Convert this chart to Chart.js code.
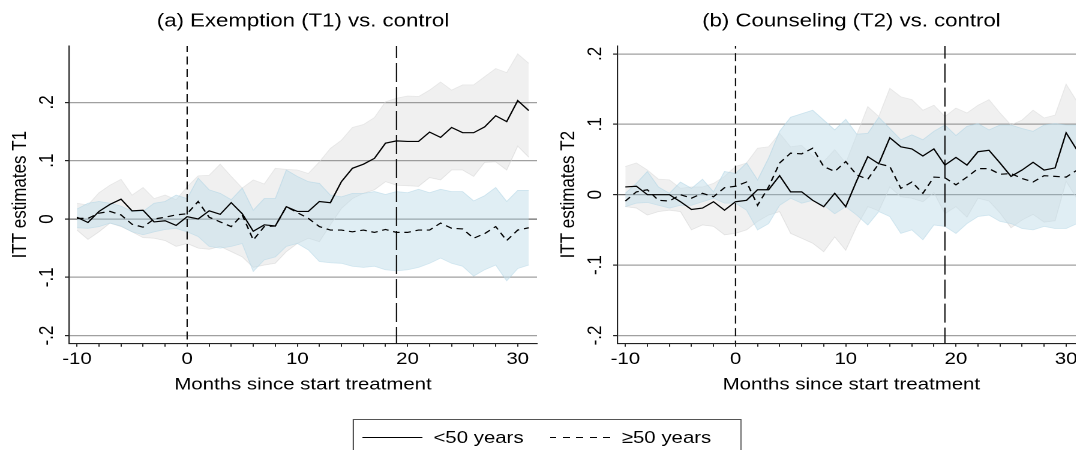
<!DOCTYPE html>
<html>
<head>
<meta charset="utf-8">
<script src="https://cdn.jsdelivr.net/npm/chart.js@4.4.1/dist/chart.umd.min.js"></script>
<style>
  html, body { margin: 0; padding: 0; background: #fff; width: 1076px; height: 450px; overflow: hidden; }
  /* the reference is stretched horizontally, so the whole stage is drawn narrow and scaled */
  #stage { position: absolute; left: 0; top: 0; width: 896.67px; height: 450px; overflow: hidden;
           transform: scaleX(1.2); transform-origin: 0 0; font-family: "Liberation Sans", Arial, sans-serif; }
  .panel { position: absolute; top: 0; width: 457px; height: 400px; }
  #legend { position: absolute; left: 294.2px; top: 419px; width: 324px; height: 40px; border: 1px solid #555; box-sizing: border-box; }
  .key { position: absolute; top: 17px; height: 1.3px; }
  .key.solid { left: 7px; width: 50px; background: #000; }
  .key.dash { left: 163px; width: 52px; background: repeating-linear-gradient(to right, #000 0 5.6px, transparent 5.6px 11.2px); }
  .lab { position: absolute; top: 8px; font-size: 17px; line-height: 20px; color: #000; white-space: nowrap; }
</style>
</head>
<body>
<div id="stage">
  <div class="panel" style="left:0"><canvas id="chartA"></canvas></div>
  <div class="panel" style="left:457.1px"><canvas id="chartB"></canvas></div>
  <div id="legend">
    <div class="key solid"></div><div class="lab" id="lab0" style="left:66px"></div>
    <div class="key dash"></div><div class="lab" id="lab1" style="left:223px"></div>
  </div>
</div>
<script>
const months = [-10, -9, -8, -7, -6, -5, -4, -3, -2, -1, 0, 1, 2, 3, 4, 5, 6, 7, 8, 9, 10,
  11, 12, 13, 14, 15, 16, 17, 18, 19, 20, 21, 22, 23, 24, 25, 26, 27, 28, 29, 30, 31];
const refMonths = [0, 19];
const xTickValues = [-10, 0, 10, 20, 30];
const xTickLabels = ['-10', '0', '10', '20', '30'];
const yTickValues = [-0.2, -0.1, 0, 0.1, 0.2];
const yTickLabels = ['-.2', '-.1', '0', '.1', '.2'];
const seriesLabels = ['<50 years', '≥50 years'];

// (a) Exemption (T1) vs. control
const t1Under50 = [0.003, -0.006, 0.013, 0.025, 0.034, 0.014, 0.015, -0.005, -0.003, -0.011,
  0.004, 0.000, 0.014, 0.008, 0.028, 0.009, -0.021, -0.010, -0.012, 0.021,
  0.013, 0.013, 0.030, 0.028, 0.064, 0.087, 0.094, 0.104, 0.130, 0.134,
  0.133, 0.133, 0.149, 0.140, 0.157, 0.148, 0.148, 0.158, 0.177, 0.167, 0.203, 0.186];
const t1Under50Hi = [0.027, 0.024, 0.045, 0.058, 0.068, 0.041, 0.054, 0.035, 0.041, 0.033,
  0.055, 0.074, 0.075, 0.094, 0.073, 0.053, 0.067, 0.060, 0.087, 0.085,
  0.084, 0.078, 0.098, 0.121, 0.135, 0.157, 0.162, 0.174, 0.201, 0.207,
  0.211, 0.210, 0.221, 0.235, 0.221, 0.230, 0.230, 0.244, 0.258, 0.251, 0.283, 0.267];
const t1Under50Lo = [-0.019, -0.035, -0.022, -0.007, -0.013, -0.022, -0.032, -0.033, -0.037, -0.047,
  -0.042, -0.050, -0.052, -0.047, -0.056, -0.065, -0.083, -0.079, -0.076, -0.056,
  -0.042, -0.033, -0.039, -0.010, 0.018, 0.035, 0.044, 0.050, 0.064, 0.058,
  0.057, 0.056, 0.071, 0.067, 0.084, 0.084, 0.073, 0.097, 0.098, 0.084, 0.125, 0.106];
const t1Over50 = [0.001, 0.001, 0.010, 0.013, 0.007, -0.009, -0.014, 0.000, 0.003, 0.007,
  0.009, 0.030, 0.003, -0.005, -0.013, 0.007, -0.036, -0.013, -0.012, 0.021,
  0.011, 0.001, -0.013, -0.019, -0.019, -0.022, -0.019, -0.023, -0.018, -0.023,
  -0.023, -0.019, -0.019, -0.007, -0.016, -0.017, -0.033, -0.025, -0.013, -0.037, -0.019, -0.015];
const t1Over50Hi = [0.017, 0.027, 0.030, 0.027, 0.022, 0.013, 0.013, 0.027, 0.030, 0.041,
  0.035, 0.070, 0.050, 0.044, 0.033, 0.053, 0.015, 0.035, 0.035, 0.084,
  0.073, 0.064, 0.061, 0.041, 0.038, 0.044, 0.044, 0.047, 0.042, 0.047,
  0.045, 0.051, 0.045, 0.051, 0.047, 0.047, 0.031, 0.040, 0.054, 0.030, 0.049, 0.049];
const t1Over50Lo = [-0.015, -0.016, -0.013, -0.007, -0.012, -0.022, -0.027, -0.022, -0.018, -0.016,
  -0.022, -0.030, -0.047, -0.050, -0.047, -0.042, -0.090, -0.070, -0.065, -0.047,
  -0.042, -0.053, -0.073, -0.075, -0.076, -0.081, -0.083, -0.081, -0.087, -0.089,
  -0.087, -0.083, -0.076, -0.067, -0.076, -0.081, -0.098, -0.087, -0.079, -0.106, -0.085, -0.079];

// (b) Counseling (T2) vs. control
const t2Under50 = [0.011, 0.012, 0.000, 0.000, 0.000, -0.010, -0.021, -0.019, -0.010, -0.022,
  -0.010, -0.008, 0.007, 0.007, 0.027, 0.004, 0.004, -0.008, -0.017, 0.002,
  -0.017, 0.020, 0.054, 0.044, 0.081, 0.068, 0.065, 0.055, 0.065, 0.042,
  0.053, 0.042, 0.061, 0.063, 0.045, 0.026, 0.035, 0.046, 0.035, 0.038, 0.088, 0.063];
const t2Under50Hi = [0.040, 0.045, 0.035, 0.022, 0.021, 0.009, 0.011, 0.011, 0.016, 0.026,
  0.040, 0.045, 0.066, 0.068, 0.087, 0.068, 0.070, 0.055, 0.047, 0.064,
  0.045, 0.085, 0.125, 0.111, 0.151, 0.139, 0.135, 0.120, 0.127, 0.111,
  0.123, 0.116, 0.127, 0.135, 0.116, 0.099, 0.106, 0.120, 0.109, 0.113, 0.157, 0.132];
const t2Under50Lo = [-0.017, -0.019, -0.029, -0.024, -0.022, -0.024, -0.050, -0.043, -0.045, -0.057,
  -0.055, -0.050, -0.038, -0.029, -0.024, -0.055, -0.062, -0.069, -0.081, -0.060,
  -0.079, -0.045, -0.017, -0.023, 0.011, -0.003, -0.005, -0.010, 0.003, -0.027,
  -0.017, -0.032, -0.005, -0.009, -0.026, -0.047, -0.036, -0.028, -0.039, -0.037, 0.019, -0.006];
const t2Over50 = [-0.009, 0.004, 0.007, -0.008, -0.009, 0.000, -0.005, 0.002, -0.003, 0.010,
  0.012, 0.018, -0.015, 0.011, 0.045, 0.059, 0.058, 0.066, 0.040, 0.033,
  0.047, 0.028, 0.022, 0.044, 0.040, 0.009, 0.018, 0.002, 0.025, 0.024,
  0.014, 0.025, 0.037, 0.037, 0.029, 0.030, 0.023, 0.018, 0.027, 0.026, 0.025, 0.035];
const t2Over50Hi = [0.002, 0.016, 0.033, 0.011, 0.002, 0.018, 0.009, 0.022, 0.004, 0.033,
  0.030, 0.045, 0.021, 0.052, 0.090, 0.110, 0.115, 0.120, 0.106, 0.092,
  0.107, 0.086, 0.087, 0.110, 0.094, 0.078, 0.085, 0.078, 0.090, 0.099,
  0.084, 0.097, 0.101, 0.092, 0.099, 0.099, 0.094, 0.090, 0.099, 0.101, 0.099, 0.099];
const t2Over50Lo = [-0.017, -0.012, -0.011, -0.015, -0.019, -0.015, -0.015, -0.010, -0.005, -0.012,
  -0.012, -0.022, -0.050, -0.041, -0.015, -0.005, -0.012, -0.008, -0.015, -0.027,
  -0.017, -0.029, -0.043, -0.024, -0.031, -0.055, -0.050, -0.064, -0.043, -0.045,
  -0.055, -0.041, -0.031, -0.029, -0.038, -0.041, -0.048, -0.050, -0.045, -0.048, -0.048, -0.041];

const FONT = '"Liberation Sans", Arial, sans-serif';
Chart.defaults.font.family = FONT;
Chart.defaults.color = '#000';

document.getElementById('lab0').textContent = seriesLabels[0];
document.getElementById('lab1').textContent = seriesLabels[1];

const pts = arr => months.map((m, i) => ({ x: m, y: arr[i] }));

// panel title + rotated y tick labels (Stata style)
const panelText = {
  id: 'panelText',
  afterDraw(chart, args, opts) {
    const ctx = chart.ctx, ys = chart.scales.y, ca = chart.chartArea;
    ctx.save();
    ctx.fillStyle = '#000';
    ctx.textAlign = 'center';
    ctx.textBaseline = 'middle';
    ctx.font = '18.5px ' + FONT;
    ctx.fillText(opts.title, (ca.left + ca.right) / 2, 21.5);
    ctx.font = '17px ' + FONT;
    yTickValues.forEach((v, i) => {
      ctx.save();
      ctx.translate(ca.left - 18, ys.getPixelForValue(v));
      ctx.rotate(-Math.PI / 2);
      ctx.fillText(yTickLabels[i], 0, 0);
      ctx.restore();
    });
    ctx.restore();
  }
};

function makePanel(id, title, yTitle, yMin, yMax, under, underHi, underLo, over, overHi, overLo) {
  const vlines = refMonths.map((m, i) => ({
    data: [{ x: m, y: -1 }, { x: m, y: 1 }],
    borderColor: '#111', borderWidth: 1.1, borderDash: i === 0 ? [8, 4.5] : [19, 5],
    pointRadius: 0, fill: false, order: 1
  }));
  new Chart(document.getElementById(id), {
    type: 'line',
    data: {
      datasets: [
        { data: pts(under), borderColor: '#000', borderWidth: 1.2, pointRadius: 0, fill: false, order: 0 },
        { data: pts(over), borderColor: '#000', borderWidth: 1.2, borderDash: [5.5, 4], pointRadius: 0, fill: false, order: 0 },
        ...vlines,
        { data: pts(overHi), borderColor: 'rgba(170,210,228,0.5)', borderWidth: 0.8, backgroundColor: 'rgba(196,223,234,0.53)', pointRadius: 0, fill: '+1', order: 2 },
        { data: pts(overLo), borderColor: 'rgba(170,210,228,0.5)', borderWidth: 0.8, pointRadius: 0, fill: false, order: 2 },
        { data: pts(underHi), borderColor: 'rgba(220,220,220,0.6)', borderWidth: 0.8, backgroundColor: 'rgba(128,128,128,0.12)', pointRadius: 0, fill: '+1', order: 3 },
        { data: pts(underLo), borderColor: 'rgba(220,220,220,0.6)', borderWidth: 0.8, pointRadius: 0, fill: false, order: 3 }
      ]
    },
    options: {
      responsive: true,
      maintainAspectRatio: false,
      animation: false,
      devicePixelRatio: 2,
      layout: { padding: { top: 46, right: 9.5, left: 0, bottom: 0 } },
      elements: { line: { tension: 0 } },
      plugins: {
        legend: { display: false },
        tooltip: { enabled: false },
        panelText: { title: title }
      },
      scales: {
        x: {
          type: 'linear', min: -10.72, max: 31.75,
          afterFit: s => { s.height = 56.7; },
          border: { display: true, color: '#222', width: 1.1 },
          grid: { display: true, drawOnChartArea: false, drawTicks: true, tickLength: 3.5, tickColor: '#222', tickWidth: 1 },
          ticks: {
            stepSize: 2, includeBounds: false, autoSkip: false, maxRotation: 0, padding: 2.5,
            font: { size: 17 }, color: '#000',
            callback: v => { const k = xTickValues.indexOf(v); return k < 0 ? '' : xTickLabels[k]; }
          },
          title: { display: true, text: 'Months since start treatment', font: { size: 17 }, color: '#000', padding: { top: 0, bottom: 4.8 } }
        },
        y: {
          type: 'linear', min: yMin, max: yMax,
          afterFit: s => { s.width = 57.5; },
          border: { display: true, color: '#222', width: 1.1 },
          grid: {
            display: true, drawOnChartArea: true, drawTicks: true, tickLength: 3.5,
            color: c => (c.tick && c.tick.value === 0) ? '#6a6a6a' : '#a0a0a0',
            tickColor: '#222', lineWidth: 1.2
          },
          ticks: { stepSize: 0.1, includeBounds: false, display: false },
          title: { display: true, text: yTitle, font: { size: 17 }, color: '#000', padding: { top: 6.5, bottom: 0 } }
        }
      }
    },
    plugins: [panelText]
  });
}

makePanel('chartA', '(a) Exemption (T1) vs. control', 'ITT estimates T1', -0.2132, 0.2967,
  t1Under50, t1Under50Hi, t1Under50Lo, t1Over50, t1Over50Hi, t1Over50Lo);
makePanel('chartB', '(b) Counseling (T2) vs. control', 'ITT estimates T2', -0.2111, 0.2112,
  t2Under50, t2Under50Hi, t2Under50Lo, t2Over50, t2Over50Hi, t2Over50Lo);
</script>
</body>
</html>
